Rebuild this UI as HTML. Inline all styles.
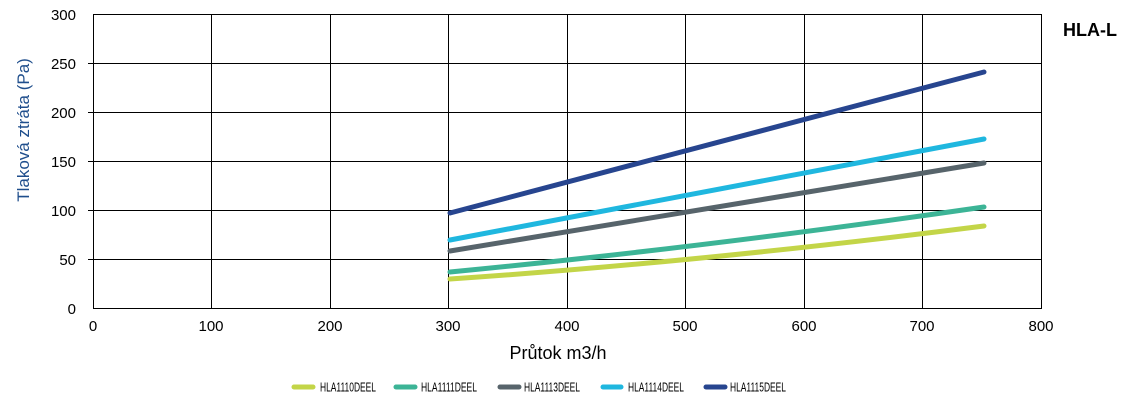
<!DOCTYPE html><html><head><style>body{margin:0;background:#fff}</style></head><body>
<svg width="1144" height="403" xmlns="http://www.w3.org/2000/svg" font-family="Liberation Sans, sans-serif">
<g stroke="#000" stroke-width="1">
<rect x="93.5" y="14.5" width="948" height="294" fill="none"/>
<line x1="211.5" y1="14.5" x2="211.5" y2="308.5"/><line x1="330.5" y1="14.5" x2="330.5" y2="308.5"/>
<line x1="448.5" y1="14.5" x2="448.5" y2="308.5"/><line x1="567.5" y1="14.5" x2="567.5" y2="308.5"/>
<line x1="685.5" y1="14.5" x2="685.5" y2="308.5"/><line x1="804.5" y1="14.5" x2="804.5" y2="308.5"/>
<line x1="922.5" y1="14.5" x2="922.5" y2="308.5"/>
<line x1="88" y1="63.5" x2="1041" y2="63.5"/><line x1="88" y1="112.5" x2="1041" y2="112.5"/>
<line x1="88" y1="161.5" x2="1041" y2="161.5"/><line x1="88" y1="210.5" x2="1041" y2="210.5"/>
<line x1="88" y1="259.5" x2="1041" y2="259.5"/>
</g>
<g font-size="15" fill="#000" text-anchor="end">
<text x="76" y="20">300</text><text x="76" y="69">250</text><text x="76" y="118">200</text>
<text x="76" y="167">150</text><text x="76" y="216">100</text><text x="76" y="265">50</text><text x="76" y="314">0</text>
</g>
<g font-size="15" fill="#000" text-anchor="middle">
<text x="93" y="331">0</text><text x="211" y="331">100</text><text x="330" y="331">200</text><text x="448" y="331">300</text>
<text x="567" y="331">400</text><text x="685" y="331">500</text><text x="804" y="331">600</text><text x="922" y="331">700</text><text x="1041" y="331">800</text>
</g>
<text x="558" y="359" font-size="18" text-anchor="middle" fill="#000">Průtok m3/h</text>
<text transform="translate(29,130) rotate(-90)" font-size="17" text-anchor="middle" fill="#1f4e8c">Tlaková ztráta (Pa)</text>
<text x="1063" y="36" font-size="18" font-weight="bold" fill="#000">HLA-L</text>
<g fill="none" stroke-width="5" stroke-linecap="round">
<path d="M450,279 Q700,262 984,226" stroke="#c3d548"/>
<path d="M450,272 Q700,248 984,207" stroke="#3cb496"/>
<path d="M450,251 L984,163" stroke="#57646b"/>
<path d="M450,240 L984,139" stroke="#1fb7df"/>
<path d="M450,213 L984,72" stroke="#27458f"/>
</g>
<g stroke-width="5" stroke-linecap="round">
<line x1="294" y1="387" x2="313" y2="387" stroke="#c3d548"/>
<line x1="396" y1="387" x2="415" y2="387" stroke="#3cb496"/>
<line x1="500" y1="387" x2="519" y2="387" stroke="#57646b"/>
<line x1="603" y1="387" x2="621" y2="387" stroke="#1fb7df"/>
<line x1="706" y1="387" x2="725" y2="387" stroke="#27458f"/>
</g>
<g font-size="13" fill="#000">
<text x="320" y="391.5" textLength="56" lengthAdjust="spacingAndGlyphs">HLA1110DEEL</text>
<text x="421" y="391.5" textLength="56" lengthAdjust="spacingAndGlyphs">HLA1111DEEL</text>
<text x="524" y="391.5" textLength="56" lengthAdjust="spacingAndGlyphs">HLA1113DEEL</text>
<text x="628" y="391.5" textLength="56" lengthAdjust="spacingAndGlyphs">HLA1114DEEL</text>
<text x="730" y="391.5" textLength="56" lengthAdjust="spacingAndGlyphs">HLA1115DEEL</text>
</g>
</svg></body></html>
